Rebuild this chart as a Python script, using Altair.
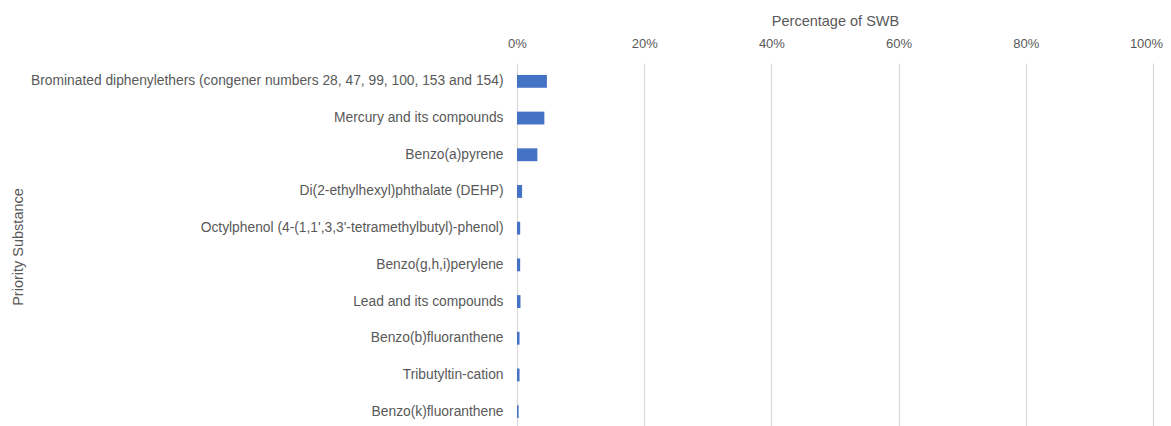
import altair as alt
import pandas as pd

substances = [
    "Brominated diphenylethers (congener numbers 28, 47, 99, 100, 153 and 154)",
    "Mercury and its compounds",
    "Benzo(a)pyrene",
    "Di(2-ethylhexyl)phthalate (DEHP)",
    "Octylphenol (4-(1,1',3,3'-tetramethylbutyl)-phenol)",
    "Benzo(g,h,i)perylene",
    "Lead and its compounds",
    "Benzo(b)fluoranthene",
    "Tributyltin-cation",
    "Benzo(k)fluoranthene",
]
percent = [4.7, 4.3, 3.2, 0.8, 0.5, 0.5, 0.55, 0.4, 0.4, 0.25]
tick_values = [0, 0.2, 0.4, 0.6, 0.8, 1.0]

df = pd.DataFrame({"Substance": substances, "Percent": [p / 100 for p in percent]})

FONT = "Liberation Sans"
TXT = "#595959"

chart = alt.Chart(df).mark_bar(color="#4472C4").encode(
    x=alt.X(
        "Percent:Q",
        scale=alt.Scale(domain=[0, 1], nice=False),
        axis=alt.Axis(
            orient="top",
            format=".0%",
            values=tick_values,
            title="Percentage of SWB",
            titleFont=FONT,
            titleFontSize=14.5,
            titleFontWeight="normal",
            titleColor=TXT,
            titlePadding=9,
            labelFont=FONT,
            labelFontSize=13,
            labelColor=TXT,
            labelPadding=13,
            labelFlush=False,
            labelOffset={"condition": {"test": "datum.value >= 1", "value": -7}, "value": 0},
            ticks=False,
            domain=False,
            grid=True,
            gridColor="#d9d9d9",
            gridWidth=1.2,
        ),
    ),
    y=alt.Y(
        "Substance:N",
        sort=substances,
        scale=alt.Scale(paddingInner=0.65, paddingOuter=0.325),
        axis=alt.Axis(
            title="Priority Substance",
            titleFont=FONT,
            titleFontSize=14.5,
            titleFontWeight="normal",
            titleColor=TXT,
            titleX=-492,
            titleAnchor="middle",
            titleBaseline="bottom",
            labelFont=FONT,
            labelFontSize=13.8,
            labelColor=TXT,
            labelPadding=14,
            labelLimit=0,
            ticks=False,
            domain=False,
            grid=False,
        ),
    ),
).properties(
    width=636,
    height=367,
    autosize=alt.AutoSizeParams(type="none"),
    padding={"left": 509, "top": 55, "right": 10, "bottom": 0},
).configure_view(stroke=None)

chart.save("out.html", embed_options={"renderer": "svg", "actions": False})
